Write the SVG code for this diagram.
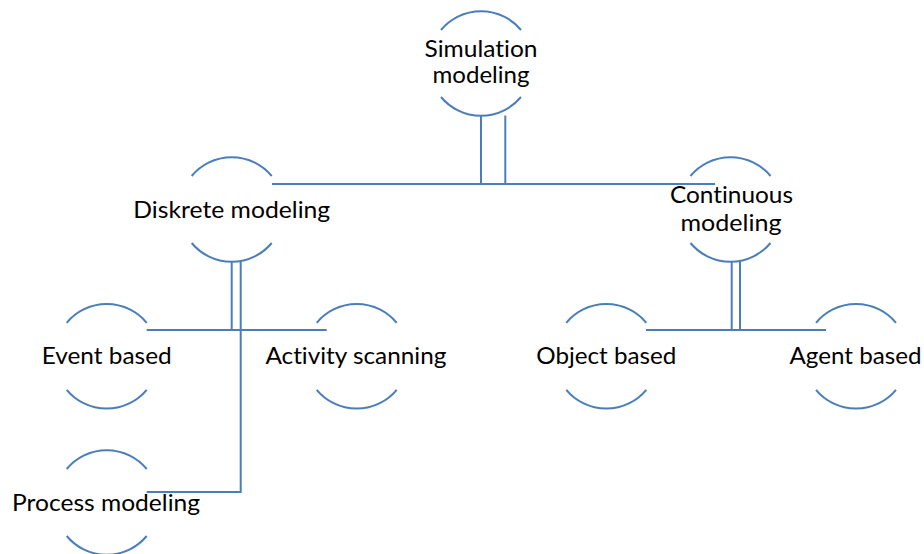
<svg xmlns="http://www.w3.org/2000/svg" width="924" height="554" viewBox="0 0 924 554">
  <style>
    .arc { fill: none; stroke: #4a7ebb; stroke-width: 2; }
    .link { fill: none; stroke: #4a7ebb; stroke-width: 2; }
    .label { font-family: Lato, "Open Sans", "Liberation Sans", sans-serif; font-size: 23px; fill: #000; text-anchor: middle; font-variant-ligatures: none; }
  </style>

  <!-- connectors -->
  <g id="connectors">
    <path class="link" d="M272 184 H715"/>
    <path class="link" d="M481 115.5 V184"/>
    <path class="link" d="M505.3 115.5 V184"/>

    <path class="link" d="M231.7 261.5 V330"/>
    <path class="link" d="M240.7 261.5 V492 H146.7"/>
    <path class="link" d="M146.7 330 H326.7"/>

    <path class="link" d="M731.7 261.5 V330"/>
    <path class="link" d="M740 261.5 V330"/>
    <path class="link" d="M646 330 H826"/>
  </g>

  <!-- nodes: top and bottom arcs of a circle with the label between them -->
  <g id="simulation" transform="translate(481 63.5)">
    <path class="arc" d="M-40 -33.5 A52 52 0 0 1 40 -33.5"/>
    <path class="arc" d="M-40 33.5 A52 52 0 0 0 40 33.5"/>
    <text class="label" x="0" y="-6.8" textLength="113" lengthAdjust="spacingAndGlyphs">Simulation</text>
    <text class="label" x="0" y="19.8" textLength="97" lengthAdjust="spacingAndGlyphs">modeling</text>
  </g>

  <g id="diskrete" transform="translate(231.7 209.5)">
    <path class="arc" d="M-40 -33.5 A52 52 0 0 1 40 -33.5"/>
    <path class="arc" d="M-40 33.5 A52 52 0 0 0 40 33.5"/>
    <text class="label" x="0" y="8.5" textLength="197" lengthAdjust="spacingAndGlyphs">Diskrete modeling</text>
  </g>

  <g id="continuous" transform="translate(730.5 209.5)">
    <path class="arc" d="M-40 -33.5 A52 52 0 0 1 40 -33.5"/>
    <path class="arc" d="M-40 33.5 A52 52 0 0 0 40 33.5"/>
    <text class="label" x="1" y="-6.2" textLength="123" lengthAdjust="spacingAndGlyphs">Continuous</text>
    <text class="label" x="0.5" y="21.5" textLength="101" lengthAdjust="spacingAndGlyphs">modeling</text>
  </g>

  <g id="event-based" transform="translate(106.7 356.3)">
    <path class="arc" d="M-40 -33.5 A52 52 0 0 1 40 -33.5"/>
    <path class="arc" d="M-40 33.5 A52 52 0 0 0 40 33.5"/>
    <text class="label" x="0" y="7.7" textLength="130" lengthAdjust="spacingAndGlyphs">Event based</text>
  </g>

  <g id="activity-scanning" transform="translate(356.7 356.3)">
    <path class="arc" d="M-40 -33.5 A52 52 0 0 1 40 -33.5"/>
    <path class="arc" d="M-40 33.5 A52 52 0 0 0 40 33.5"/>
    <text class="label" x="-0.8" y="7.7" textLength="181" lengthAdjust="spacingAndGlyphs">Activity scanning</text>
  </g>

  <g id="object-based" transform="translate(606.3 356.3)">
    <path class="arc" d="M-40 -33.5 A52 52 0 0 1 40 -33.5"/>
    <path class="arc" d="M-40 33.5 A52 52 0 0 0 40 33.5"/>
    <text class="label" x="0" y="7.7" textLength="140" lengthAdjust="spacingAndGlyphs">Object based</text>
  </g>

  <g id="agent-based" transform="translate(856 356.3)">
    <path class="arc" d="M-40 -33.5 A52 52 0 0 1 40 -33.5"/>
    <path class="arc" d="M-40 33.5 A52 52 0 0 0 40 33.5"/>
    <text class="label" x="-0.5" y="7.7" textLength="132" lengthAdjust="spacingAndGlyphs">Agent based</text>
  </g>

  <g id="process-modeling" transform="translate(106.7 502.5)">
    <path class="arc" d="M-40 -33.5 A52 52 0 0 1 40 -33.5"/>
    <path class="arc" d="M-40 33.5 A52 52 0 0 0 40 33.5"/>
    <text class="label" x="-0.7" y="8.5" textLength="188" lengthAdjust="spacingAndGlyphs">Process modeling</text>
  </g>
</svg>
